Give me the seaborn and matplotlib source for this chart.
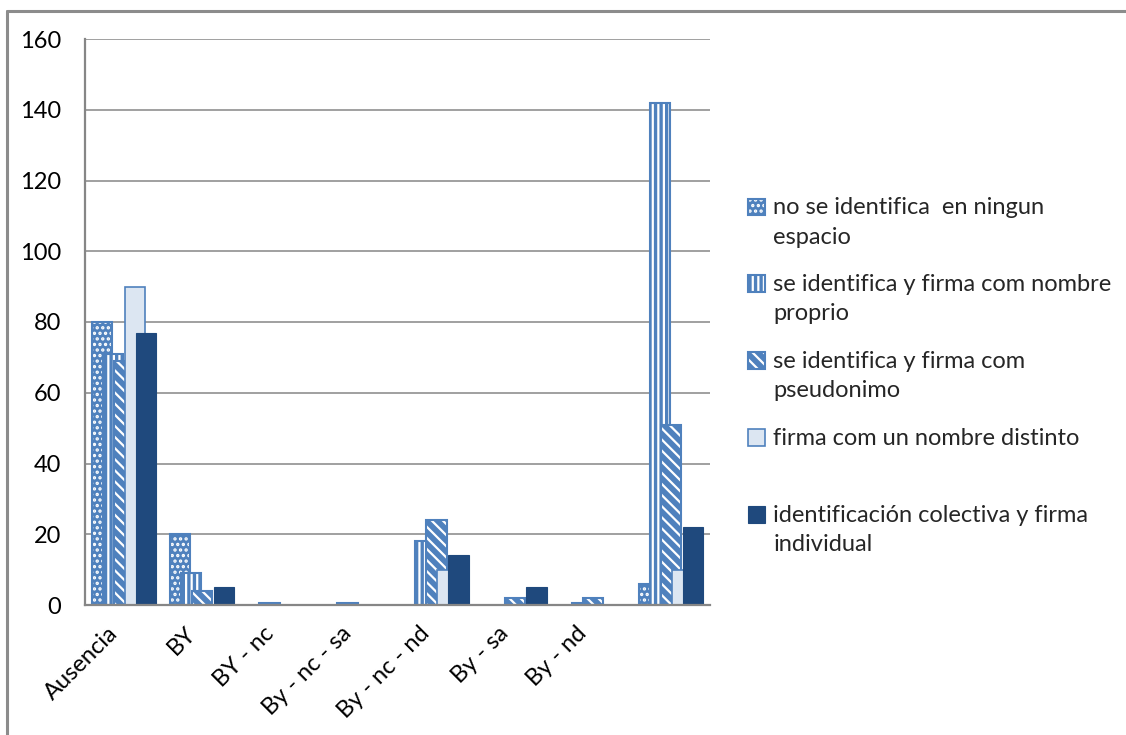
import matplotlib
matplotlib.use("Agg")
import matplotlib.pyplot as plt
import matplotlib.patches as mpatches
import matplotlib.colors as mcolors
import matplotlib.transforms as mtransforms
from matplotlib.legend_handler import HandlerPatch
from matplotlib.lines import Line2D
import pandas as pd
import seaborn as sns

# ---- data -------------------------------------------------------------
categories = ["Ausencia", "BY", "BY - nc", "By - nc - sa", "By - nc - nd",
              "By - sa", "By - nd", ""]

series = [
    "no se identifica  en ningun\nespacio",
    "se identifica y firma com nombre\nproprio",
    "se identifica y firma com\npseudonimo",
    "firma com un nombre distinto\n ",
    "identificación colectiva y firma\nindividual",
]

no_identifica   = [80, 20, 0,   0,   0,  0, 0,   6]
nombre_propio   = [71,  9, 0.5, 0.5, 18, 0, 0.5, 142]
pseudonimo      = [69,  4, 0,   0,   24, 2, 2,   51]
nombre_distinto = [90,  0, 0,   0,   10, 0, 0,   10]
colectiva       = [77,  5, 0,   0,   14, 5, 0,   22]

values = [no_identifica, nombre_propio, pseudonimo, nombre_distinto, colectiva]

yticks = [0, 20, 40, 60, 80, 100, 120, 140, 160]

# ---- styling ----------------------------------------------------------
BLUE = "#4F81BD"
LIGHT = "#DCE6F2"
DARK = "#1F497D"
GRID = "#868686"
FS = 17

styles = [
    dict(face=BLUE, edge=BLUE, hatch="...", lw=1.5),
    dict(face=BLUE, edge=BLUE, hatch="|||", lw=1.5),
    dict(face=BLUE, edge=BLUE, hatch="\\\\\\", lw=1.5),
    dict(face=LIGHT, edge=BLUE, hatch=None, lw=1.2),
    dict(face=DARK, edge=DARK, hatch=None, lw=0.8),
]


def style_patch(p, st):
    p.set_facecolor(st["face"])
    p.set_edgecolor(st["edge"])
    p.set_linewidth(st["lw"])
    if st["hatch"]:
        p.set_hatch(st["hatch"])
        white = mcolors.to_rgba("white")
        if hasattr(p, "set_hatchcolor"):
            p.set_hatchcolor(white)
        else:
            p._hatch_color = white


sns.set_theme(style="white")
plt.rcParams["font.family"] = ["Lato", "DejaVu Sans"]
plt.rcParams["hatch.linewidth"] = 1.6

rows = []
for name, vals in zip(series, values):
    for cat, v in zip(categories, vals):
        rows.append({"categoria": cat, "serie": name, "valor": v})
df = pd.DataFrame(rows)

fig = plt.figure(figsize=(11.26, 7.35), dpi=100)
ax = fig.add_axes([85 / 1126, 1 - 605 / 735, 625 / 1126, 566 / 735])

sns.barplot(data=df, x="categoria", y="valor", hue="serie",
            order=categories, hue_order=series,
            palette=[s["face"] for s in styles], saturation=1,
            width=0.7, gap=-0.857, dodge=True, errorbar=None,
            legend=False, ax=ax)

for cont, st in zip(ax.containers, styles):
    for p in cont.patches:
        style_patch(p, st)
        if p.get_height() == 0:
            p.set_visible(False)

# ---- axes -------------------------------------------------------------
ax.set_xlim(-0.5, len(categories) - 0.5)
ax.set_ylim(0, 160)
ax.set_yticks(yticks)
ax.set_xlabel("")
ax.set_ylabel("")
ax.set_axisbelow(True)
ax.yaxis.grid(True, color=GRID, linewidth=1.1)
ax.xaxis.grid(False)
for side in ["top", "right"]:
    ax.spines[side].set_visible(False)
for side in ["left", "bottom"]:
    ax.spines[side].set_color(GRID)
    ax.spines[side].set_linewidth(1.6)

ax.tick_params(axis="y", length=0, pad=17, labelsize=FS, labelcolor="black")
ax.tick_params(axis="x", length=0, pad=18, labelsize=FS, labelcolor="black")
ax.set_xticks(range(len(categories)))
ax.set_xticklabels(categories, rotation=45, ha="right", va="center",
                   rotation_mode="anchor")
shift = mtransforms.ScaledTranslation(-10 / 100, 0, fig.dpi_scale_trans)
for lab in ax.get_xticklabels():
    lab.set_transform(lab.get_transform() + shift)

# ---- legend -----------------------------------------------------------
HANDLE_SHIFT = 11.2


def handle_patch(legend, orig_handle, xdescent, ydescent, width, height,
                 fontsize):
    return mpatches.Rectangle((-xdescent, -ydescent + HANDLE_SHIFT),
                              height, height)


handles = []
for st in styles:
    h = mpatches.Patch()
    style_patch(h, st)
    handles.append(h)

leg = fig.legend(handles, series, loc="upper left",
                 bbox_to_anchor=(748 / 1126, 1 - 197 / 735),
                 bbox_transform=fig.transFigure,
                 frameon=False, fontsize=FS, handlelength=0.72,
                 handleheight=0.72, handletextpad=0.35, labelspacing=1.12,
                 borderpad=0, borderaxespad=0,
                 handler_map={mpatches.Patch: HandlerPatch(patch_func=handle_patch)})
for t in leg.get_texts():
    t.set_linespacing(1.5)

# ---- chart-area border ------------------------------------------------
x0 = 7.5 / 1126
y0 = 1 - 10.5 / 735
fig.add_artist(Line2D([x0, x0], [0, y0], transform=fig.transFigure,
                      color="#8C8C8C", linewidth=2.2))
fig.add_artist(Line2D([x0, 1], [y0, y0], transform=fig.transFigure,
                      color="#8C8C8C", linewidth=2.2))

fig.savefig("out.png", dpi=100)
